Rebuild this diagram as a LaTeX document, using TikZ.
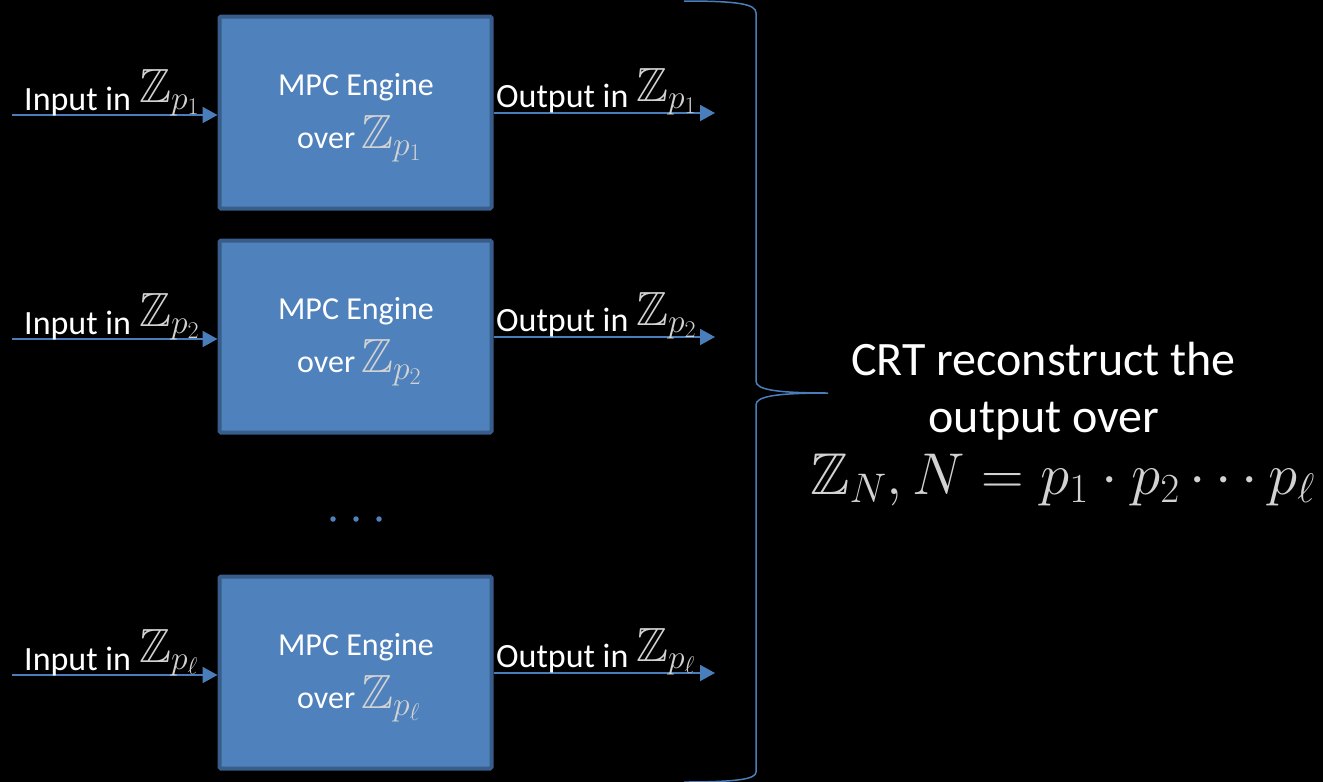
\RequirePackage{fix-cm}
\documentclass[tikz,border=0pt]{standalone}
\usepackage{amssymb}
\DeclareFontFamily{U}{msb}{}
\DeclareFontShape{U}{msb}{m}{n}{<-6> msbm5 <6-8> msbm7 <8-> msbm10}{}
\usepackage[no-math]{fontspec}
\newfontfamily\carl{Carlito}
\usetikzlibrary{arrows.meta}
\definecolor{boxfill}{HTML}{4F81BD}
\definecolor{boxborder}{HTML}{385D8A}
\definecolor{linec}{HTML}{4A7EBB}
\definecolor{mg}{HTML}{D2D2D2}
\newcommand{\mz}[1]{{\fontsize{48}{54}\selectfont\color{mg}$\mathbb{Z}_{#1}$}}
\begin{document}
\begin{tikzpicture}[x=1pt,y=-1pt,
  engine/.style={draw=boxborder, line width=4pt, fill=boxfill, rounded corners=1.5pt,
     minimum width=272pt, minimum height=192pt, inner sep=0pt},
  txt/.style={text=white, inner sep=0pt, font=\carl\fontsize{32}{38}\selectfont},
  iotxt/.style={text=white, inner sep=0pt, font=\carl\fontsize{34}{40}\selectfont},
  mth/.style={inner sep=0pt},
  arr/.style={draw=linec, line width=2pt, -{Triangle[length=15pt,width=16pt]}},
  bigtxt/.style={text=white, inner sep=0pt, font=\carl\fontsize{48}{56}\selectfont},
  dot/.style={fill=boxfill, circle, inner sep=0pt, minimum size=5.5pt}
]
\useasboundingbox[fill=black] (0,0) rectangle (1323,782);

\foreach \k/\dy/\s in {1/0/p_1, 2/224/p_2, 3/560/p_\ell}{
  \node[engine] (b\k) at (355.5,112.5+\dy) {};
  \node[txt, anchor=base] (mpc\k) at (356,95+\dy) {MPC Engine};
  \node[txt, anchor=base west] (over\k) at (297,148+\dy) {over\hspace{6pt}\mz{\s}};
  \coordinate (in\k) at (12,115+\dy);
  \coordinate (out\k) at (715,113+\dy);
  \draw[arr] (in\k) -- (in\k -| b\k.west);
  \draw[arr] (out\k -| b\k.east) -- (out\k);
  \node[iotxt, anchor=base west] (it\k) at (24,110+\dy) {Input in};
  \node[mth, anchor=base west] (iz\k) at (139,102+\dy) {\mz{\s}};
  \node[iotxt, anchor=base west] (ot\k) at (496,107+\dy) {Output in};
  \node[mth, anchor=base west] (oz\k) at (636,101+\dy) {\mz{\s}};
}

\node[dot] (d1) at (333,519) {};
\node[dot] (d2) at (356,519) {};
\node[dot] (d3) at (379,519) {};

\draw[draw=linec, line width=1.5pt]
  (684,1) .. controls (738,1) and (756,4) .. (756,13) -- (756,381)
  .. controls (756,389) and (772,393) .. (828,393)
  .. controls (772,393) and (756,397) .. (756,405) -- (756,772)
  .. controls (756,779) and (738,782) .. (684,782);
\coordinate (tip) at (828,393);

\node[bigtxt, anchor=base] (crt1) at (1043.5,375) {CRT reconstruct the};
\node[bigtxt, anchor=base] (crt2) at (1044,432) {output over};
\node[mth, anchor=base west] (crt3) at (810,494)
  {\fontsize{59}{64}\selectfont\color{mg}$\mathbb{Z}_N, N = p_1\cdot p_2\cdots p_\ell$};
\end{tikzpicture}
\end{document}
